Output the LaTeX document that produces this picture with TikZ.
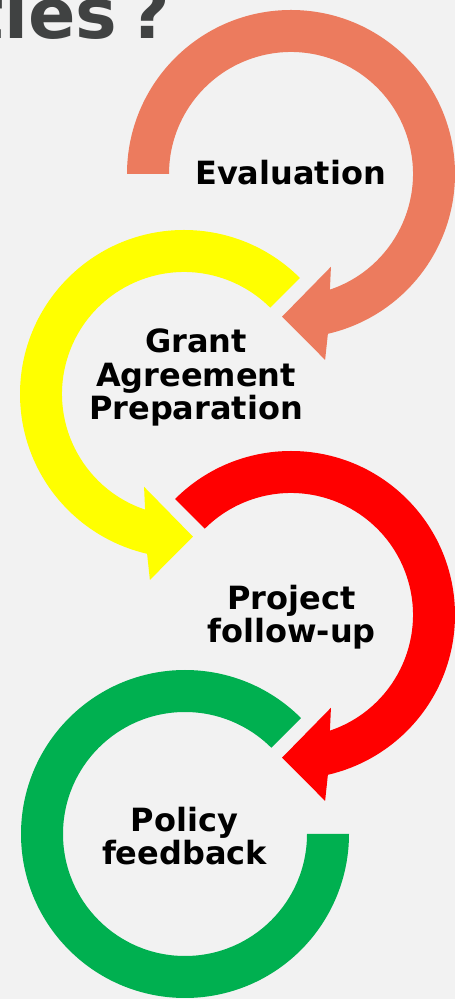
\documentclass[tikz,border=0pt]{standalone}
\usepackage{fontspec}
\setmainfont{DejaVu Sans}
\definecolor{evalcolour}{RGB}{236,123,94}
\definecolor{grantcolour}{RGB}{255,255,0}
\definecolor{projectcolour}{RGB}{255,0,0}
\definecolor{policycolour}{RGB}{0,176,80}
\definecolor{slidebg}{RGB}{242,242,242}
\definecolor{titlegrey}{RGB}{64,66,66}

\newcommand\cycleinner{122}
\newcommand\cycleouter{164}
\newcommand\cyclelabelfont{\fontsize{32}{33.5}\selectfont\bfseries}
\newcommand\cwcycle[2]{
  \fill[#2] (#1:\cycleouter) arc[start angle=#1, end angle=-77, radius=\cycleouter]
    -- (-79.6:189) -- (-93.6:143) -- (-66.7:101) -- (-71.4:\cycleinner)
    arc[start angle=-71.4, end angle=#1, radius=\cycleinner] -- cycle ;
}
\newcommand\ccwcycle[2]{
  \fill[#2] (#1:\cycleouter) arc[start angle=#1, end angle=257, radius=\cycleouter]
    -- (259.6:189) -- (273.6:143) -- (246.7:101) -- (251.4:\cycleinner)
    arc[start angle=251.4, end angle=#1, radius=\cycleinner] -- cycle ;
}
\newcommand\opencycle[3]{
  \fill[#3] (#1:\cycleouter) arc[start angle=#1, end angle=#2, radius=\cycleouter]
    -- (#2:\cycleinner)
    arc[start angle=#2, end angle=#1, radius=\cycleinner] -- cycle ;
}

\tikzset{
  cyclelabel/.style={font=\cyclelabelfont, align=center, anchor=base, inner sep=0pt},
}

\begin{document}
\begin{tikzpicture}[x=1pt, y=1pt]
    \clip (0,0) rectangle (455,999) ;
    \fill[slidebg] (0,0) rectangle (455,999) ;
    \node[font=\fontsize{70}{72}\selectfont\bfseries, text=titlegrey,
      anchor=base east, inner sep=0pt] (title) at (170,960) {ties\,?} ;
    \begin{scope}[shift={(291,825)}]
      \cwcycle{180}{evalcolour}
    \end{scope}
    \begin{scope}[shift={(184,605)}]
      \ccwcycle{45}{grantcolour}
    \end{scope}
    \begin{scope}[shift={(291,384)}]
      \cwcycle{135}{projectcolour}
    \end{scope}
    \begin{scope}[shift={(185,165)}]
      \opencycle{45}{360}{policycolour}
    \end{scope}
    % base of a multi-line label is its last line
    \node[cyclelabel] (evaluation) at (290.5,814) {Evaluation} ;
    \node[cyclelabel] (grant) at (196,579) {Grant\\Agreement\\Preparation} ;
    \node[cyclelabel] (project) at (291.5,356) {Project\\follow-up} ;
    \node[cyclelabel] (policy) at (184.5,134) {Policy\\feedback} ;
\end{tikzpicture}
\end{document}
